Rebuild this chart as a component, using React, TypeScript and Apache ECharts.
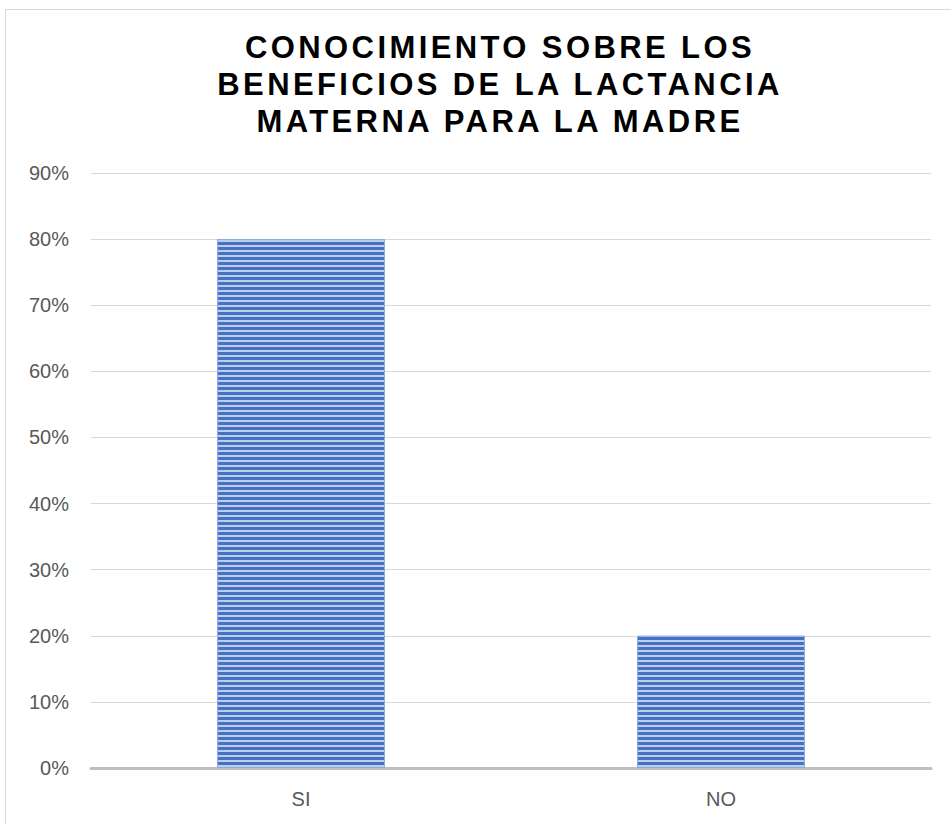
import React, { useEffect, useRef } from "react";
import * as echarts from "echarts";

const categories = ["SI", "NO"];
const values = [0.8, 0.2];
const titleLines = ["CONOCIMIENTO SOBRE LOS", "BENEFICIOS DE LA LACTANCIA", "MATERNA PARA LA MADRE"];

export default function App() {
  const ref = useRef<HTMLDivElement>(null);
  useEffect(() => {
    document.body.style.margin = "0";
    const chart = echarts.init(ref.current!, null, { renderer: "svg" });
    chart.setOption({
      animation: false,
      backgroundColor: "#ffffff",
      title: {
        text: titleLines.join("\n"),
        left: 495,
        top: 24,
        textAlign: "center",
        textStyle: {
          fontFamily: "Liberation Sans, Arial, sans-serif",
          fontSize: 31,
          fontWeight: "bold",
          color: "#000000",
          lineHeight: 37,
        },
      },
      graphic: [
        {
          type: "rect",
          shape: { x: 5.5, y: 9.5, width: 1000, height: 900 },
          style: { fill: "none", stroke: "#D9D9D9", lineWidth: 1 },
          silent: true,
          z: -1,
        },
      ],
      grid: { left: 91, right: 20, top: 173, bottom: 56, containLabel: false },
      xAxis: {
        type: "category",
        data: categories,
        axisLine: { show: true, lineStyle: { color: "#BFBFBF", width: 3 } },
        axisTick: { show: false },
        axisLabel: {
          color: "#595959",
          fontSize: 20,
          fontFamily: "Liberation Sans, Arial, sans-serif",
          margin: 21,
        },
      },
      yAxis: {
        type: "value",
        min: 0,
        max: 0.9,
        interval: 0.1,
        axisLine: { show: false },
        axisTick: { show: false },
        splitLine: { lineStyle: { color: "#D9D9D9", width: 1 } },
        axisLabel: {
          color: "#595959",
          fontSize: 20,
          fontFamily: "Liberation Sans, Arial, sans-serif",
          margin: 22,
          formatter: (v: number) => Math.round(v * 100) + "%",
        },
      },
      series: [
        {
          type: "bar",
          data: values,
          barWidth: "40%",
          itemStyle: {
            color: "#4472C4",
            borderColor: "#8FAADC",
            borderWidth: 1,
            decal: {
              symbol: "rect",
              symbolSize: 1,
              dashArrayX: [1, 0],
              dashArrayY: [2, 2.3],
              rotation: 0,
              color: "rgba(255,255,255,0.65)",
            },
          },
        },
      ],
    });
    const spaceTitle = () => {
      const dom = ref.current;
      if (!dom) return;
      dom.querySelectorAll("text, tspan").forEach((el) => {
        const t = (el.textContent || "").trim();
        if (titleLines.includes(t)) {
          (el as SVGElement).setAttribute("letter-spacing", "3.4px");
        }
      });
    };
    spaceTitle();
    chart.on("finished", spaceTitle);
    const timer = window.setTimeout(spaceTitle, 50);
    return () => {
      window.clearTimeout(timer);
      chart.dispose();
    };
  }, []);
  return <div ref={ref} style={{ position: "fixed", left: 0, top: 0, width: 951, height: 824 }} />;
}
